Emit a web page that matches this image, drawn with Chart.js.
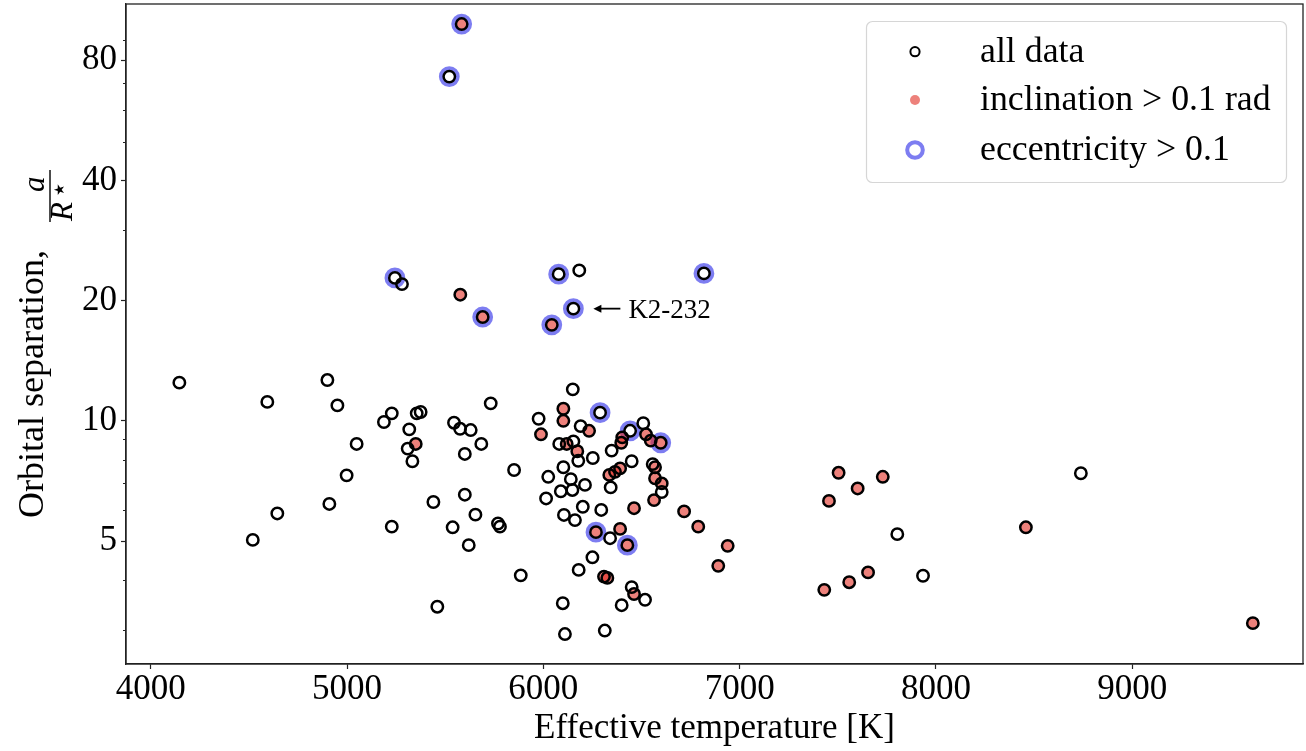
<!DOCTYPE html>
<html>
<head>
<meta charset="utf-8">
<script src="https://cdn.jsdelivr.net/npm/chart.js@4.4.1/dist/chart.umd.min.js"></script>
<style>
    html, body { margin: 0; padding: 0; background: #fff; }
    #wrap { position: relative; width: 1306px; height: 751px; }
</style>
</head>
<body>
<div id="wrap"><canvas id="chart" width="1306" height="751"></canvas></div>
<script>
// Valores: Teff [K] e a/R*
const allTeff = [
    5584, 5521, 5244, 5280, 5577, 5691, 6043, 6153, 6078, 6183, 6818,
    4146, 4900, 4594, 4951, 5732, 5228, 5188, 5355, 5375, 5317, 5350, 5309, 5333, 5049, 4998,
    5545, 5576, 5630, 5684, 5600, 5851, 5600, 5440, 4910, 5654, 4645, 5228, 5538, 5769, 5779,
    5620, 4520, 5885, 5460,
    6150, 6102, 6102, 5976, 5988, 6289, 6190, 6233, 6081, 6119, 6153, 6173, 6178, 6252, 6102,
    6025, 6140, 6212, 6089, 6148, 6014, 6201, 6105, 6161, 6295,
    6442, 6509, 6402, 6397, 6523, 6547, 6598, 6348, 6450, 6391, 6365, 6336, 6343, 6557, 6569,
    6569, 6603, 6603, 6564, 6462, 6717, 6789,
    6268, 6391, 6340, 6428, 6250, 6180, 6309, 6326, 6450, 6462, 6399, 6518, 6099, 6110, 6313,
    6891, 6939, 7504, 7455, 7601, 7729, 7803, 7934, 8458, 8738, 9614, 7431, 7558, 7654
];
const allAR = [
    98.4, 72.7, 22.8, 22.0, 20.7, 18.2, 17.4, 19.1, 23.3, 23.8, 23.4,
    12.47, 12.66, 11.16, 10.94, 11.07, 10.45, 9.94, 10.45, 10.53, 9.53, 8.76, 8.53, 7.93, 8.76, 7.31,
    9.90, 9.56, 9.49, 8.76, 8.27, 7.54, 6.54, 6.27, 6.20, 5.83, 5.87, 5.44, 5.42, 5.54, 5.44,
    4.89, 5.04, 4.11, 3.43,
    12.0, 10.73, 10.01, 10.13, 9.26, 10.49, 9.71, 9.45, 8.76, 8.76, 8.89, 8.40, 7.95, 8.08, 7.66,
    7.25, 7.15, 6.92, 6.67, 6.72, 6.40, 6.10, 5.82, 5.65, 5.99,
    9.45, 9.87, 9.10, 8.82, 9.26, 8.93, 8.82, 8.43, 7.93, 7.61, 7.46, 7.33, 6.82, 7.80, 7.66,
    7.19, 6.98, 6.64, 6.34, 6.05, 5.94, 5.44,
    5.27, 5.37, 5.09, 4.89, 4.56, 4.24, 4.08, 4.05, 3.84, 3.69, 3.46, 3.57, 3.50, 2.93, 2.99,
    4.34, 4.87, 7.42, 6.31, 6.78, 7.25, 5.21, 4.10, 5.42, 7.40, 3.12, 3.78, 3.95, 4.18
];

// inclinação > 0.1 rad
const incTeff = [
    5584, 5577, 5691, 6043, 5350, 6102, 6102, 5988, 6233, 6119, 6173, 6402, 6397, 6523, 6547,
    6598, 6391, 6365, 6336, 6569, 6569, 6603, 6564, 6462, 6717, 6789, 6268, 6391, 6428, 6309,
    6326, 6462, 6891, 6939, 7504, 7455, 7601, 7729, 8458, 9614, 7431, 7558, 7654
];
const incAR = [
    98.4, 20.7, 18.2, 17.4, 8.76, 10.73, 10.01, 9.26, 9.45, 8.76, 8.40, 9.10, 8.82, 9.26, 8.93,
    8.82, 7.61, 7.46, 7.33, 7.66, 7.19, 6.98, 6.34, 6.05, 5.94, 5.44, 5.27, 5.37, 4.89, 4.08,
    4.05, 3.69, 4.34, 4.87, 7.42, 6.31, 6.78, 7.25, 5.42, 3.12, 3.78, 3.95, 4.18
];

// excentricidade > 0.1
const eccTeff = [5584, 5521, 5244, 5691, 6043, 6153, 6078, 6818, 6289, 6442, 6598, 6268, 6428];
const eccAR = [98.4, 72.7, 22.8, 18.2, 17.4, 19.1, 23.3, 23.4, 10.49, 9.45, 8.82, 5.27, 4.89];

const seriesLabels = ['all data', 'inclination > 0.1 rad', 'eccentricity > 0.1'];
const xTicks = [4000, 5000, 6000, 7000, 8000, 9000];
const yTicks = [5, 10, 20, 40, 80];
const yMinorTicks = [3, 4, 6, 7, 8, 9, 30, 50, 60, 70, 90];
const k2Label = 'K2-232';
const k2Teff = 6153, k2AR = 19.1;

const SERIF = "'Liberation Serif', 'Times New Roman', serif";
const RED = 'rgba(225, 45, 35, 0.6)';
const BLUE = 'rgba(70, 70, 235, 0.7)';
const AXIS = '#222';

const toPoints = (xs, ys) => xs.map((x, i) => ({ x: x, y: ys[i] }));

Chart.defaults.font.family = SERIF;
Chart.defaults.color = '#000';

// moldura, ticks menores, título do eixo y, anotação e legenda
const extrasPlugin = {
    id: 'extras',
    afterDraw: (chart) => {
        const ctx = chart.ctx;
        const { left, right, top, bottom } = chart.chartArea;
        const xs = chart.scales.x, ys = chart.scales.y;
        ctx.save();

        ctx.strokeStyle = AXIS;
        ctx.lineWidth = 1.3;
        ctx.strokeRect(left, top, right - left, bottom - top);

        ctx.lineWidth = 1;
        yMinorTicks.forEach(v => {
            const y = Math.round(ys.getPixelForValue(v)) + 0.5;
            ctx.beginPath();
            ctx.moveTo(left - 3, y);
            ctx.lineTo(left, y);
            ctx.stroke();
        });

        // título do eixo y com fração a / R*
        ctx.fillStyle = '#000';
        ctx.save();
        ctx.translate(43, 518);
        ctx.rotate(-Math.PI / 2);
        ctx.textBaseline = 'alphabetic';
        ctx.textAlign = 'left';
        ctx.font = '36px ' + SERIF;
        ctx.fillText('Orbital separation,', 0, 0);
        ctx.font = 'italic 31px ' + SERIF;
        ctx.fillText('a', 326, 1);
        ctx.fillText('R', 297, 29);
        ctx.font = '14px DejaVu Sans';
        ctx.fillText('★', 322, 21);
        ctx.fillRect(296, 6.3, 52, 1.4);
        ctx.restore();

        // anotação K2-232
        const px = xs.getPixelForValue(k2Teff);
        const py = ys.getPixelForValue(k2AR);
        ctx.strokeStyle = '#000';
        ctx.lineWidth = 1.8;
        ctx.beginPath();
        ctx.moveTo(px + 47, py);
        ctx.lineTo(px + 25, py);
        ctx.stroke();
        ctx.beginPath();
        ctx.moveTo(px + 20, py);
        ctx.lineTo(px + 28, py - 4);
        ctx.lineTo(px + 28, py + 4);
        ctx.closePath();
        ctx.fill();
        ctx.font = '27px ' + SERIF;
        ctx.textBaseline = 'alphabetic';
        ctx.fillText(k2Label, px + 55, py + 9.5);

        // legenda
        ctx.beginPath();
        ctx.roundRect(866.5, 21.5, 420, 161, 6);
        ctx.fillStyle = 'rgba(255, 255, 255, 0.8)';
        ctx.fill();
        ctx.strokeStyle = '#d6d6d6';
        ctx.lineWidth = 1.2;
        ctx.stroke();

        const mx = 915;
        const rows = [51.7, 100, 150];
        ctx.beginPath();
        ctx.arc(mx, rows[0], 4.6, 0, Math.PI * 2);
        ctx.strokeStyle = '#000';
        ctx.lineWidth = 2;
        ctx.stroke();
        ctx.beginPath();
        ctx.arc(mx, rows[1], 5, 0, Math.PI * 2);
        ctx.fillStyle = RED;
        ctx.fill();
        ctx.beginPath();
        ctx.arc(mx, rows[2], 7.8, 0, Math.PI * 2);
        ctx.strokeStyle = BLUE;
        ctx.lineWidth = 4;
        ctx.stroke();

        ctx.fillStyle = '#000';
        ctx.font = '35.8px ' + SERIF;
        ctx.textBaseline = 'alphabetic';
        seriesLabels.forEach((t, i) => ctx.fillText(t, 980, rows[i] + 10));

        // título do eixo x
        ctx.textAlign = 'center';
        ctx.font = '35px ' + SERIF;
        ctx.fillText('Effective temperature [K]', (left + right) / 2, 738);

        ctx.restore();
    }
};

const ctx = document.getElementById('chart').getContext('2d');
new Chart(ctx, {
    type: 'scatter',
    data: {
        datasets: [
            {
                label: seriesLabels[0], data: toPoints(allTeff, allAR),
                pointRadius: 5.7, borderWidth: 2.5, borderColor: '#000', backgroundColor: 'rgba(0, 0, 0, 0)'
            },
            {
                label: seriesLabels[1], data: toPoints(incTeff, incAR),
                pointRadius: 5.7, borderWidth: 0, borderColor: 'rgba(0, 0, 0, 0)', backgroundColor: RED
            },
            {
                label: seriesLabels[2], data: toPoints(eccTeff, eccAR),
                pointRadius: 8.4, borderWidth: 4, borderColor: BLUE, backgroundColor: 'rgba(0, 0, 0, 0)'
            }
        ]
    },
    options: {
        responsive: false,
        animation: false,
        devicePixelRatio: 1,
        events: [],
        layout: { autoPadding: false, padding: { top: 4, right: 3, left: 0, bottom: 0 } },
        plugins: { legend: { display: false }, tooltip: { enabled: false } },
        scales: {
            x: {
                type: 'linear', min: 3874.2, max: 9869.5,
                afterBuildTicks: (s) => { s.ticks = xTicks.map(v => ({ value: v })); },
                afterFit: (s) => { s.height = 87; s.paddingLeft = 0; s.paddingRight = 0; },
                ticks: { font: { size: 35 }, color: '#000', padding: 0, maxRotation: 0, callback: (v) => String(v) },
                grid: { drawOnChartArea: false, tickLength: 5, tickColor: AXIS, tickWidth: 1.2 },
                border: { color: AXIS, width: 1.3 }
            },
            y: {
                type: 'logarithmic', min: 2.466, max: 110.46,
                afterBuildTicks: (s) => { s.ticks = yTicks.map(v => ({ value: v })); },
                afterFit: (s) => { s.width = 126; s.paddingTop = 0; s.paddingBottom = 0; },
                ticks: { font: { size: 35 }, color: '#000', padding: 4, callback: (v) => String(v) },
                grid: { drawOnChartArea: false, tickLength: 5, tickColor: AXIS, tickWidth: 1.2 },
                border: { color: AXIS, width: 1.3 }
            }
        }
    },
    plugins: [extrasPlugin]
});
</script>
</body>
</html>
